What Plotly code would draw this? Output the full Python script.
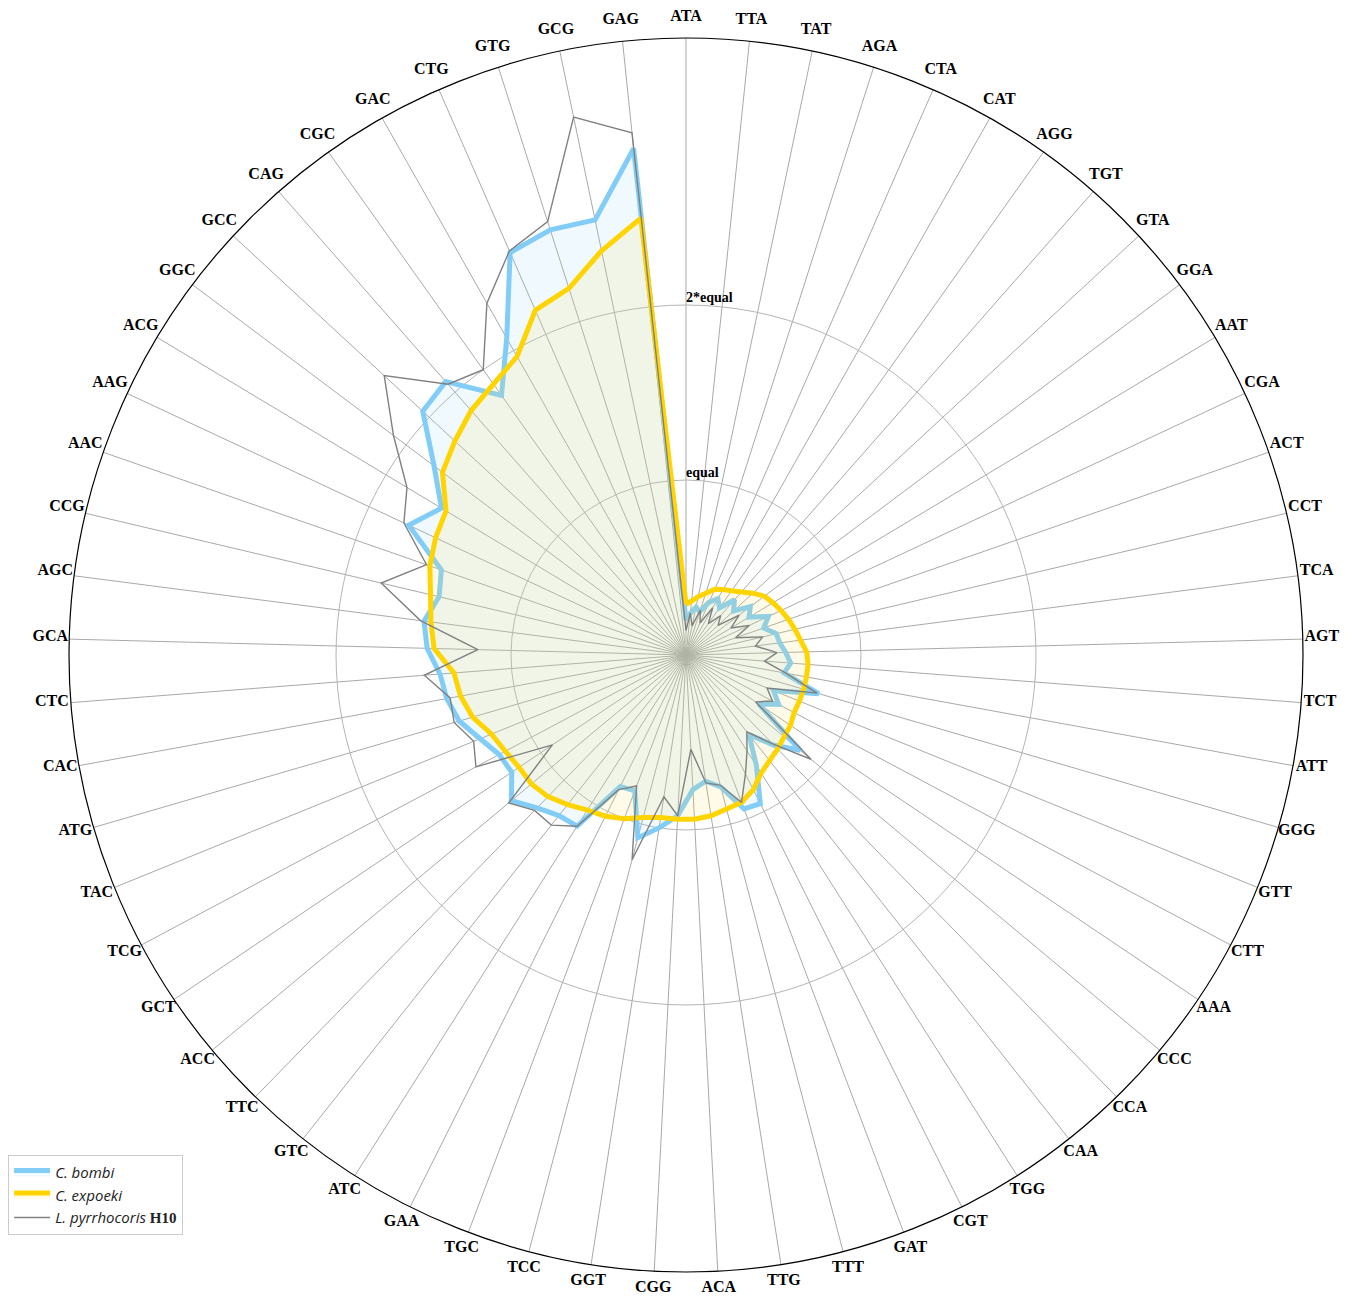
import plotly.graph_objects as go

# Codons in clockwise order starting at the top
codons = [
    "ATA", "TTA", "TAT", "AGA", "CTA", "CAT", "AGG", "TGT", "GTA", "GGA",
    "AAT", "CGA", "ACT", "CCT", "TCA", "AGT", "TCT", "ATT", "GGG", "GTT",
    "CTT", "AAA", "CCC", "CCA", "CAA", "TGG", "CGT", "GAT", "TTT", "TTG",
    "ACA", "CGG", "GGT", "TCC", "TGC", "GAA", "ATC", "GTC", "TTC", "ACC",
    "GCT", "TCG", "TAC", "ATG", "CAC", "CTC", "GCA", "AGC", "CCG", "AAC",
    "AAG", "ACG", "GGC", "GCC", "CAG", "CGC", "GAC", "CTG", "GTG", "GCG",
    "GAG",
]

# Relative codon usage (1 = equal usage)
c_bombi = [
    0.20, 0.24, 0.28, 0.26, 0.33, 0.37, 0.33, 0.42, 0.37, 0.46,
    0.42, 0.52, 0.47, 0.53, 0.54, 0.57, 0.60, 0.57, 0.79, 0.54,
    0.60, 0.50, 0.85, 0.72, 0.58, 0.75, 0.95, 0.94, 0.78, 0.73,
    0.77, 0.92, 1.00, 1.08, 0.83, 0.84, 1.16, 1.17, 1.22, 1.30,
    1.20, 1.21, 1.27, 1.35, 1.39, 1.41, 1.48, 1.51, 1.45, 1.48,
    1.75, 1.63, 1.80, 2.05, 2.08, 1.82, 2.08, 2.51, 2.55, 2.54,
    2.91,
]

c_expoeki = [
    0.29, 0.31, 0.34, 0.37, 0.41, 0.43, 0.45, 0.48, 0.52, 0.56,
    0.58, 0.60, 0.62, 0.64, 0.66, 0.69, 0.70, 0.70, 0.70, 0.70,
    0.70, 0.72, 0.73, 0.75, 0.77, 0.80, 0.86, 0.90, 0.91, 0.93,
    0.94, 0.94, 0.94, 0.96, 1.00, 1.03, 1.05, 1.09, 1.13, 1.15,
    1.15, 1.17, 1.20, 1.27, 1.31, 1.33, 1.44, 1.47, 1.50, 1.55,
    1.58, 1.60, 1.74, 1.80, 1.86, 1.90, 1.96, 2.15, 2.20, 2.36,
    2.51,
]

l_pyrrhocoris = [
    0.14, 0.24, 0.17, 0.27, 0.20, 0.31, 0.22, 0.30, 0.25, 0.38,
    0.30, 0.40, 0.30, 0.45, 0.40, 0.52, 0.45, 0.58, 0.78, 0.50,
    0.56, 0.48, 0.93, 0.71, 0.56, 0.65, 0.76, 0.90, 0.77, 0.74,
    0.54, 0.92, 0.82, 1.21, 0.80, 0.86, 1.16, 1.24, 1.24, 1.32,
    0.92, 1.36, 1.31, 1.38, 1.37, 1.50, 1.19, 1.53, 1.79, 1.57,
    1.78, 1.86, 2.09, 2.35, 2.06, 2.00, 2.31, 2.52, 2.60, 3.14,
    3.00,
]

ref_levels = [1, 2]
ref_labels = ["equal", "2*equal"]

r_max = 3.526          # outer rim of the data area


def closed(values):
    return list(values) + list(values[:1])


theta = closed(codons)

fig = go.Figure()

fig.add_trace(go.Scatterpolar(
    r=closed(c_bombi), theta=theta, mode="lines",
    fill="toself", fillcolor="rgba(135,206,250,0.13)",
    line=dict(color="#82cdf7", width=5),
    name="<i>C. bombi</i>",
))

fig.add_trace(go.Scatterpolar(
    r=closed(c_expoeki), theta=theta, mode="lines",
    fill="toself", fillcolor="rgba(255,225,80,0.13)",
    line=dict(color="#ffd400", width=5),
    name="<i>C. expoeki</i>",
))

fig.add_trace(go.Scatterpolar(
    r=closed(l_pyrrhocoris), theta=theta, mode="lines",
    line=dict(color="#808080", width=1.4),
    name=("<i>L. pyrrhocoris</i> "
          "<span style=\"font-family:'Liberation Serif';font-weight:bold\">H10</span>"),
))

# Labels of the reference circles, placed on the first spoke
fig.add_trace(go.Scatterpolar(
    r=ref_levels, theta=[codons[0]] * len(ref_levels), mode="text",
    text=ref_labels, textposition="top right",
    textfont=dict(family="Liberation Serif", size=14, color="black", weight="bold"),
    showlegend=False, hoverinfo="skip",
))

# Codon names, centred on a slightly larger, invisible ring
fig.add_trace(go.Scatterpolar(
    r=[1.0] * len(codons), theta=codons, mode="text",
    text=codons, textposition="middle center",
    textfont=dict(family="Liberation Serif", size=16, color="black", weight="bold"),
    cliponaxis=False, showlegend=False, hoverinfo="skip",
    subplot="polar2",
))

W, H = 1355, 1298
cx, cy = 686, 655
rad = 617        # rim radius in px
rad_lab = 636    # label ring radius in px
cy_lab = 653     # label ring centre (px from top)


def domain(r_px, yc=cy):
    return dict(x=[(cx - r_px) / W, (cx + r_px) / W],
                y=[1 - (yc + r_px) / H, 1 - (yc - r_px) / H])


fig.update_layout(
    width=W, height=H,
    margin=dict(l=0, r=0, t=0, b=0),
    paper_bgcolor="white",
    polar=dict(
        domain=domain(rad),
        bgcolor="white",
        angularaxis=dict(
            type="category", categoryarray=codons,
            direction="clockwise", rotation=90,
            showticklabels=False,
            showline=True, linecolor="black", linewidth=1.2,
            gridcolor="#a9a9a9", gridwidth=1, ticks="",
        ),
        radialaxis=dict(
            range=[0, r_max], tickvals=ref_levels,
            showticklabels=False, showline=False, ticks="",
            gridcolor="#b5b5b5", gridwidth=1,
        ),
    ),
    polar2=dict(
        domain=domain(rad_lab, cy_lab),
        bgcolor="rgba(0,0,0,0)",
        angularaxis=dict(
            type="category", categoryarray=codons,
            direction="clockwise", rotation=90,
            showticklabels=False, showline=False, showgrid=False, ticks="",
        ),
        radialaxis=dict(range=[0, 1], visible=False),
    ),
    legend=dict(
        x=0.006, y=0.110, xanchor="left", yanchor="top",
        bgcolor="white", bordercolor="#cccccc", borderwidth=1,
        font=dict(family="Open Sans", size=15, color="#222222"),
        itemwidth=36,
    ),
)

fig.write_html("out.html")
